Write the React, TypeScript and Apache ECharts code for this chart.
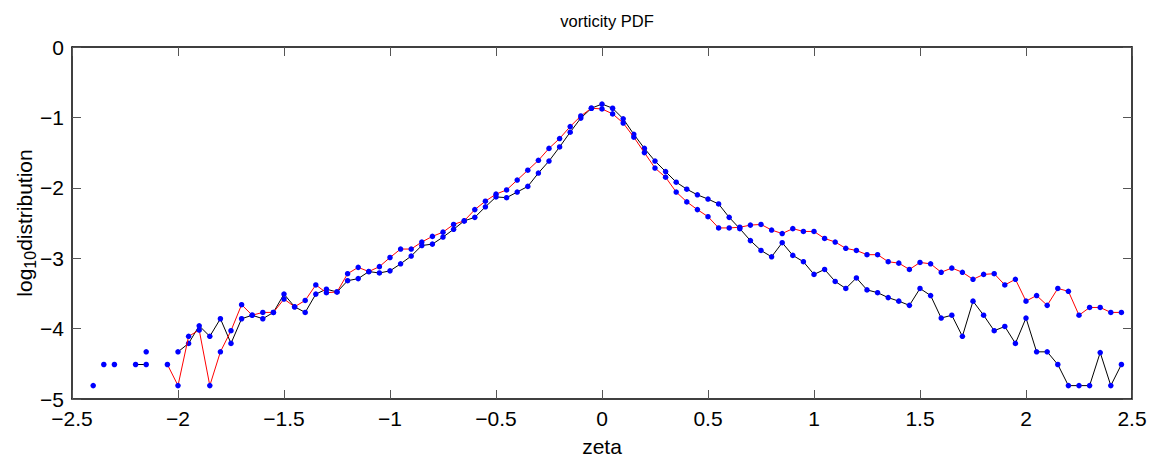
import React, { useEffect, useRef } from "react";
import * as echarts from "echarts";

const xs: number[] = [];
for (let i = -48; i <= 49; i++) xs.push(Math.round(i * 5) / 100);

const blackSeries: (number | null)[] = [
  -4.81, null, -4.51, null, -4.51, -4.51, null, null, -4.33, -4.21,
  -3.96, -4.11, -3.86, -4.21, -3.86, -3.81, -3.86, -3.77, -3.51, -3.69,
  -3.77, -3.51, -3.44, -3.48, -3.32, -3.29, -3.19, -3.21, -3.18, -3.08,
  -2.97, -2.82, -2.80, -2.70, -2.59, -2.47, -2.42, -2.27, -2.13, -2.14,
  -2.06, -1.98, -1.79, -1.62, -1.42, -1.21, -1.01, -0.87, -0.81, -0.87,
  -1.02, -1.24, -1.44, -1.62, -1.77, -1.92, -2.02, -2.10, -2.16, -2.23,
  -2.42, -2.58, -2.75, -2.89, -2.98, -2.78, -2.96, -3.05, -3.23, -3.16,
  -3.33, -3.43, -3.28, -3.45, -3.49, -3.56, -3.61, -3.67, -3.43, -3.53,
  -3.85, -3.81, -4.11, -3.61, -3.81, -4.03, -3.97, -4.21, -3.85, -4.33,
  -4.33, -4.51, -4.81, -4.81, -4.81, -4.34, -4.81, -4.51,
];

const redSeries: (number | null)[] = [
  null, -4.51, null, null, null, -4.33, null, -4.51, -4.81, -4.11,
  -4.02, -4.81, -4.33, -4.03, -3.66, -3.81, -3.77, -3.77, -3.58, -3.69,
  -3.60, -3.38, -3.49, -3.48, -3.22, -3.13, -3.19, -3.12, -2.99, -2.87,
  -2.87, -2.77, -2.69, -2.63, -2.52, -2.47, -2.31, -2.19, -2.09, -2.03,
  -1.89, -1.75, -1.61, -1.44, -1.30, -1.13, -0.98, -0.87, -0.88, -0.95,
  -1.08, -1.28, -1.50, -1.72, -1.85, -2.06, -2.20, -2.31, -2.41, -2.57,
  -2.57, -2.56, -2.53, -2.52, -2.60, -2.65, -2.58, -2.62, -2.62, -2.72,
  -2.77, -2.86, -2.89, -2.95, -2.95, -3.05, -3.07, -3.16, -3.06, -3.08,
  -3.20, -3.14, -3.20, -3.30, -3.23, -3.22, -3.38, -3.30, -3.61, -3.53,
  -3.67, -3.43, -3.47, -3.81, -3.70, -3.70, -3.77, -3.77,
];

const FONT = "'Liberation Sans', Arial, Helvetica, sans-serif";
const minus = (v: number) => String(v).replace("-", "\u2212");

export default function App() {
  const ref = useRef<HTMLDivElement>(null);
  useEffect(() => {
    if (!ref.current) return;
    const chart = echarts.init(ref.current, undefined, { renderer: "svg" });
    const toData = (arr: (number | null)[]) =>
      xs.map((x, i) => [x, arr[i] === null ? NaN : arr[i]]);
    const tick = { show: true, inside: true, length: 9, lineStyle: { color: "#555", width: 1 } };
    const line = { show: true, onZero: false, lineStyle: { color: "#000", width: 1.5 } };
    const label = { fontFamily: FONT, fontSize: 21, color: "#000", formatter: minus };
    chart.setOption({
      animation: false,
      backgroundColor: "#fff",
      title: {
        text: "vorticity PDF",
        left: 602,
        textAlign: "center",
        top: 7,
        textStyle: { fontFamily: FONT, fontSize: 16.5, fontWeight: "normal", color: "#000" },
      },
      grid: {
        left: 72, top: 47, right: 22, bottom: 62,
        containLabel: false, outerBoundsMode: "none",
      },
      xAxis: [
        {
          type: "value", min: -2.5, max: 2.5, interval: 0.5, position: "bottom",
          axisLine: line, axisTick: tick, splitLine: { show: false },
          axisLabel: { ...label, margin: 9 },
          name: "zeta", nameLocation: "middle", nameGap: 37, nameMoveOverlap: false,
          nameTextStyle: { fontFamily: FONT, fontSize: 21, color: "#000" },
        },
        {
          type: "value", min: -2.5, max: 2.5, interval: 0.5, position: "top",
          axisLine: line, axisTick: tick, splitLine: { show: false },
          axisLabel: { show: false },
        },
      ],
      yAxis: [
        {
          type: "value", min: -5, max: 0, interval: 1, position: "left",
          axisLine: line, axisTick: tick, splitLine: { show: false },
          axisLabel: { ...label, margin: 8 },
          name: "log{sub|10}distribution", nameLocation: "middle", nameGap: 34,
          nameMoveOverlap: false,
          nameRotate: 90,
          nameTextStyle: {
            fontFamily: FONT, fontSize: 21, color: "#000",
            rich: { sub: { fontFamily: FONT, fontSize: 16, color: "#000", padding: [12, 0, 0, 0] } },
          },
        },
        {
          type: "value", min: -5, max: 0, interval: 1, position: "right",
          axisLine: line, axisTick: tick, splitLine: { show: false },
          axisLabel: { show: false },
        },
      ],
      series: [
        {
          type: "line", data: toData(blackSeries), xAxisIndex: 0, yAxisIndex: 0,
          symbol: "circle", symbolSize: 5.5, showSymbol: true, showAllSymbol: true,
          connectNulls: false,
          lineStyle: { color: "#000", width: 1 },
          itemStyle: { color: "#0000ff", borderWidth: 0 },
          z: 2,
        },
        {
          type: "line", data: toData(redSeries), xAxisIndex: 0, yAxisIndex: 0,
          symbol: "circle", symbolSize: 5.5, showSymbol: true, showAllSymbol: true,
          connectNulls: false,
          lineStyle: { color: "#ff0000", width: 1 },
          itemStyle: { color: "#0000ff", borderWidth: 0 },
          z: 3,
        },
      ],
    });
    return () => chart.dispose();
  }, []);
  return (
    <div
      ref={ref}
      style={{ position: "fixed", left: 0, top: 0, width: 1154, height: 461, background: "#fff" }}
    />
  );
}
